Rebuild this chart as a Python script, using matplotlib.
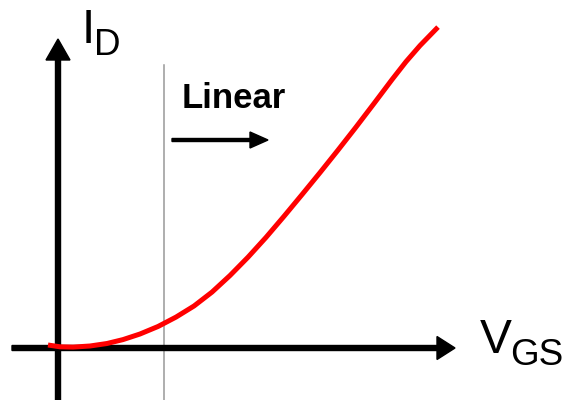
import matplotlib
matplotlib.use("Agg")
import matplotlib.pyplot as plt

# Curve: V_GS vs I_D (arbitrary units, origin at axis crossing)
vgs = [-10, 2, 15, 32, 49, 65, 82, 100, 118, 136, 154, 172, 190, 208, 226,
       244, 262, 280, 298, 316, 334, 348, 362, 380]
i_d = [3.0, 1.2, 0.9, 2.0, 4.5, 8.4, 14.0, 21.5, 30.9, 42.0, 55.9, 72.5, 90.8,
       110.6, 131.7, 153.4, 175.4, 197.9, 220.9, 244.5, 268.4, 286.3, 302.4, 320.9]

threshold_x = 106
labels = {"y": ("I", "D"), "x": ("V", "GS"), "region": "Linear"}

fig = plt.figure(figsize=(5.68, 4.0), dpi=100)
ax = fig.add_axes([0, 0, 1, 1])
ax.set_xlim(-58, 510)
ax.set_ylim(-52, 348)
ax.axis("off")

# threshold line
ax.plot([threshold_x, threshold_x], [-52, 283], color="#999999", lw=1.1, zorder=1)

# axes arrows
ax.arrow(0, -55, 0, 364, width=5, head_width=24, head_length=21,
         length_includes_head=True, color="black", zorder=2)
ax.arrow(-46, 0, 443, 0, width=5, head_width=23, head_length=18,
         length_includes_head=True, color="black", zorder=2)

# curve
ax.plot(vgs, i_d, color="#ff0000", lw=3.6, solid_capstyle="butt",
        solid_joinstyle="round", zorder=3)

# Linear arrow
ax.arrow(114, 208, 96, 0, width=3, head_width=16, head_length=18,
         length_includes_head=True, color="black", zorder=2)

font = "Liberation Sans"
ax.text(24, 305, labels["y"][0], fontsize=34.5, family=font, va="baseline", ha="left")
ax.text(36, 293, labels["y"][1], fontsize=26.6, family=font, va="baseline", ha="left")
ax.text(422, -5, labels["x"][0], fontsize=34.5, family=font, va="baseline", ha="left")
ax.text(452, -17, labels["x"][1], fontsize=26.6, family=font, va="baseline", ha="left")
ax.text(124, 240, labels["region"], fontsize=25, family=font, fontweight="bold",
        va="baseline", ha="left")

fig.savefig("out.png", dpi=100)
